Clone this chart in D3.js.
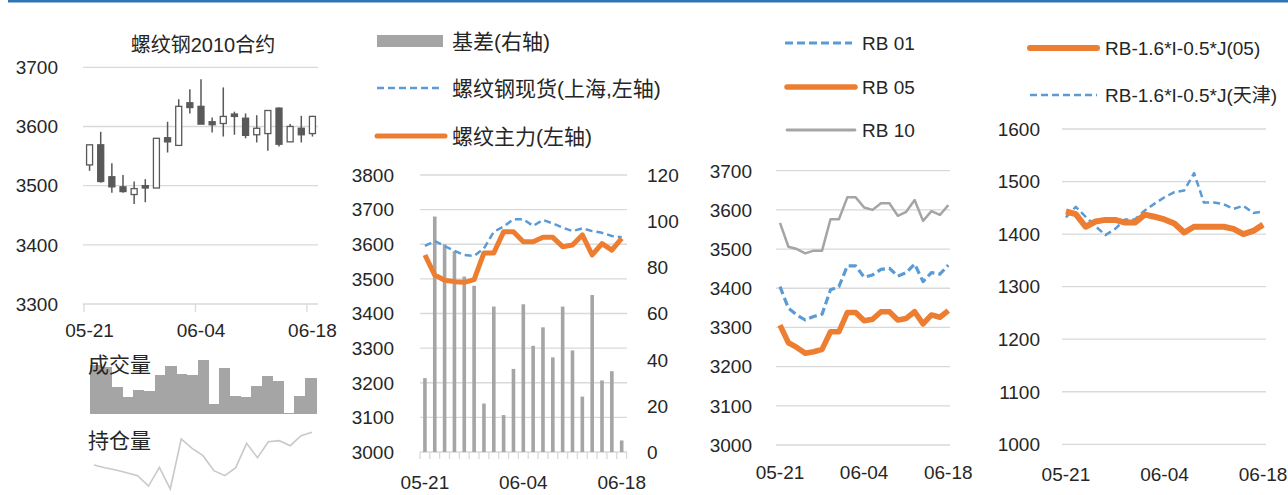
<!DOCTYPE html>
<html lang="zh">
<head>
<meta charset="utf-8">
<script src="https://d3js.org/d3.v7.min.js"></script>
<style>
  body { margin: 0; background: #ffffff; }
  svg { display: block; }
  text { font-family: "Liberation Sans", "Noto Sans CJK SC", sans-serif; fill: #262626; }
</style>
</head>
<body>
<script>
// trading days
var dates = ["05-21","05-22","05-25","05-26","05-27","05-28","05-29","06-01","06-02","06-03",
             "06-04","06-05","06-08","06-09","06-10","06-11","06-12","06-15","06-16","06-17","06-18"];
var dateTicks = ["05-21", "06-04", "06-18"];

// rb2010 candles
var kOpen  = [3535,3569,3515,3498,3485,3500,3496,3581,3568,3640,3634,3608,3605,3621,3614,3586,3588,3631,3574,3597,3588];
var kHigh  = [3569,3591,3538,3518,3507,3511,3580,3608,3646,3663,3680,3615,3666,3625,3622,3619,3627,3632,3604,3618,3618];
var kLow   = [3525,3505,3488,3488,3469,3472,3496,3556,3568,3622,3604,3590,3583,3586,3580,3573,3559,3566,3574,3573,3583];
var kClose = [3569,3507,3498,3490,3495,3496,3580,3574,3634,3632,3604,3603,3617,3617,3585,3597,3627,3570,3600,3586,3617];
var volume = [148,140,80,50,73,68,116,143,120,116,163,30,138,55,50,85,115,98,2,55,108];
var openInterest = [80,72,65,57,48,17,73,8,158,130,108,63,48,72,145,102,150,153,138,168,178];
var ticksK = [3300, 3400, 3500, 3600, 3700];

// basis panel
var basis = [32,102,90,87,76,72,21,63,16,36,64,46,54,41,63,44,24,68,31,35,5];
var spotSH = [3595,3609,3595,3581,3569,3566,3588,3636,3651,3672,3672,3653,3670,3660,3648,3638,3646,3638,3633,3624,3620];
var mainRB = [3569,3511,3496,3492,3490,3498,3575,3575,3636,3636,3607,3607,3620,3620,3593,3598,3627,3569,3602,3583,3617];
var ticksPrice2 = [3000,3100,3200,3300,3400,3500,3600,3700,3800];
var ticksBasis = [0,20,40,60,80,100,120];

// contracts panel
var rb01 = [3404,3349,3332,3319,3328,3334,3396,3404,3457,3457,3428,3434,3448,3451,3431,3440,3462,3417,3440,3436,3459];
var rb05 = [3306,3261,3249,3234,3238,3244,3289,3289,3338,3338,3317,3321,3340,3340,3319,3323,3340,3309,3332,3326,3343];
var rb10 = [3567,3506,3500,3489,3496,3496,3576,3576,3632,3632,3606,3600,3617,3617,3585,3595,3625,3572,3597,3587,3612];
var ticksPrice3 = [3000,3100,3200,3300,3400,3500,3600,3700];

// margin panel
var margin05 = [1443,1438,1414,1424,1427,1427,1422,1422,1437,1433,1428,1420,1403,1414,1414,1414,1414,1410,1400,1406,1418];
var marginTJ = [1432,1452,1433,1415,1398,1410,1428,1428,1445,1458,1470,1480,1483,1516,1460,1460,1457,1448,1454,1440,1443];
var ticksMargin = [1000,1100,1200,1300,1400,1500,1600];

var orange = "#ed7d31", blue = "#5b9bd5", gray = "#a5a5a5", dark = "#595959", grid = "#d9d9d9";

var svg = d3.select("body").append("svg")
    .attr("width", 1288)
    .attr("height", 495);

svg.append("rect")
    .attr("x", 8).attr("y", 0)
    .attr("width", 1280).attr("height", 2.5)
    .attr("fill", "#2e75b6");

function gridLines(g, y, ticks, x0, x1) {
    g.selectAll(null)
        .data(ticks)
        .enter().append("line")
        .attr("x1", x0).attr("x2", x1)
        .attr("y1", function(d) { return y(d); })
        .attr("y2", function(d) { return y(d); })
        .attr("stroke", grid)
        .attr("stroke-width", 1.3);
}

function yLabels(g, y, ticks, x, anchor) {
    g.selectAll(null)
        .data(ticks)
        .enter().append("text")
        .attr("x", x)
        .attr("y", function(d) { return y(d); })
        .attr("dy", "0.36em")
        .attr("text-anchor", anchor)
        .style("font-size", "19px")
        .text(function(d) { return d; });
}

function xLabels(g, x, yPos) {
    g.selectAll(null)
        .data(dateTicks)
        .enter().append("text")
        .attr("x", function(d) { return x(d) + x.bandwidth() / 2; })
        .attr("y", yPos)
        .attr("dy", "0.36em")
        .attr("text-anchor", "middle")
        .style("font-size", "19px")
        .text(function(d) { return d; });
}

function seriesLine(g, x, y, values, color, width, dash) {
    var line = d3.line()
        .x(function(d, i) { return x(dates[i]) + x.bandwidth() / 2; })
        .y(function(d) { return y(d); });
    g.append("path")
        .datum(values)
        .attr("d", line)
        .attr("fill", "none")
        .attr("stroke", color)
        .attr("stroke-width", width)
        .attr("stroke-linejoin", "round")
        .attr("stroke-dasharray", dash || null);
}

function legendItem(x, y, type, color, width, dash, label, textX) {
    if (type == "rect") {
        svg.append("rect")
            .attr("x", x[0]).attr("y", y - 6)
            .attr("width", x[1] - x[0]).attr("height", 12)
            .attr("fill", color);
    } else {
        svg.append("line")
            .attr("x1", x[0]).attr("x2", x[1])
            .attr("y1", y).attr("y2", y)
            .attr("stroke", color)
            .attr("stroke-width", width)
            .attr("stroke-linecap", dash ? "butt" : "round")
            .attr("stroke-dasharray", dash || null);
    }
    svg.append("text")
        .attr("x", textX)
        .attr("y", y)
        .attr("dy", "0.36em")
        .style("font-size", /[\u4e00-\u9fff]/.test(label) && label.indexOf("RB") < 0 ? "21px" : "19px")
        .text(label);
}

// ---------- panel 1: candlestick ----------
var k = svg.append("g");
var xK = d3.scaleBand().domain(dates).range([84, 318]);
var yK = d3.scaleLinear().domain([3300, 3700]).range([304, 67.3]);

k.append("text")
    .attr("x", 203).attr("y", 45).attr("dy", "0.36em")
    .attr("text-anchor", "middle")
    .style("font-size", "20px")
    .text("螺纹钢2010合约");

gridLines(k, yK, ticksK.slice(1), 83, 318);
k.append("line")
    .attr("x1", 83).attr("x2", 318)
    .attr("y1", yK(3300)).attr("y2", yK(3300))
    .attr("stroke", grid).attr("stroke-width", 1.3);
k.selectAll(null)
    .data(dateTicks)
    .enter().append("line")
    .attr("x1", function(d) { return xK(d); })
    .attr("x2", function(d) { return xK(d); })
    .attr("y1", yK(3300)).attr("y2", yK(3300) + 8)
    .attr("stroke", grid).attr("stroke-width", 1.3);
yLabels(k, yK, ticksK, 58, "end");
xLabels(k, xK, 330);

var candle = k.selectAll(".candle")
    .data(dates)
    .enter().append("g")
    .attr("class", "candle");
candle.append("line")
    .attr("x1", function(d) { return xK(d) + xK.bandwidth() / 2; })
    .attr("x2", function(d) { return xK(d) + xK.bandwidth() / 2; })
    .attr("y1", function(d, i) { return yK(kHigh[i]); })
    .attr("y2", function(d, i) { return yK(kLow[i]); })
    .attr("stroke", dark)
    .attr("stroke-width", 1.5);
candle.append("rect")
    .attr("x", function(d) { return xK(d) + xK.bandwidth() / 2 - 3; })
    .attr("width", 6)
    .attr("y", function(d, i) { return yK(Math.max(kOpen[i], kClose[i])); })
    .attr("height", function(d, i) { return Math.max(1.5, Math.abs(yK(kOpen[i]) - yK(kClose[i]))); })
    .attr("fill", function(d, i) { return kClose[i] >= kOpen[i] ? "#ffffff" : dark; })
    .attr("stroke", dark)
    .attr("stroke-width", 1.3);

// volume and open interest
var xV = d3.scaleBand().domain(dates).range([90, 316]);
var yV = d3.scaleLinear().domain([0, 165]).range([414, 359]);
k.selectAll(".vol")
    .data(volume)
    .enter().append("rect")
    .attr("class", "vol")
    .attr("x", function(d, i) { return xV(dates[i]); })
    .attr("width", xV.bandwidth() + 0.5)
    .attr("y", function(d) { return yV(d); })
    .attr("height", function(d) { return 414 - yV(d); })
    .attr("fill", gray)
    .attr("shape-rendering", "crispEdges");
k.append("text")
    .attr("x", 88).attr("y", 364).attr("dy", "0.36em")
    .style("font-size", "21px")
    .text("成交量");

var xO = d3.scalePoint().domain(dates).range([94, 312]);
var yO = d3.scaleLinear().domain([0, 200]).range([491.7, 425]);
k.append("path")
    .datum(openInterest)
    .attr("d", d3.line()
        .x(function(d, i) { return xO(dates[i]); })
        .y(function(d) { return yO(d); }))
    .attr("fill", "none")
    .attr("stroke", "#c9c9c9")
    .attr("stroke-width", 1.6);
k.append("text")
    .attr("x", 88).attr("y", 440).attr("dy", "0.36em")
    .style("font-size", "21px")
    .text("持仓量");

// ---------- panel 2: basis ----------
var b = svg.append("g");
var x2 = d3.scaleBand().domain(dates).range([420, 626.6]);
var y2 = d3.scaleLinear().domain([3000, 3800]).range([452, 175]);
var y2r = d3.scaleLinear().domain([0, 120]).range([452, 175]);

gridLines(b, y2, ticksPrice2, 420, 627);
b.selectAll(null)
    .data(d3.range(dates.length + 1))
    .enter().append("line")
    .attr("x1", function(i) { return 420 + i * x2.step(); })
    .attr("x2", function(i) { return 420 + i * x2.step(); })
    .attr("y1", 452).attr("y2", 459)
    .attr("stroke", grid).attr("stroke-width", 1.3);
yLabels(b, y2, ticksPrice2, 394, "end");
yLabels(b, y2r, ticksBasis, 647, "start");
xLabels(b, x2, 482);

b.selectAll(".bar")
    .data(basis)
    .enter().append("rect")
    .attr("class", "bar")
    .attr("x", function(d, i) { return x2(dates[i]) + x2.bandwidth() / 2 - 1.8; })
    .attr("width", 3.6)
    .attr("y", function(d) { return y2r(d); })
    .attr("height", function(d) { return 452 - y2r(d); })
    .attr("fill", gray);
seriesLine(b, x2, y2, spotSH, blue, 2.5, "7,4");
seriesLine(b, x2, y2, mainRB, orange, 5);

legendItem([377, 443], 41, "rect", gray, 0, null, "基差(右轴)", 452);
legendItem([377, 440], 88, "line", blue, 2.5, "7,4", "螺纹钢现货(上海,左轴)", 452);
legendItem([377, 445], 136, "line", orange, 5, null, "螺纹主力(左轴)", 452);

// ---------- panel 3: contracts ----------
var c = svg.append("g");
var x3 = d3.scaleBand().domain(dates).range([775.8, 952.5]);
var y3 = d3.scaleLinear().domain([3000, 3700]).range([445, 170.7]);

gridLines(c, y3, ticksPrice3, 776, 950);
yLabels(c, y3, ticksPrice3, 752, "end");
xLabels(c, x3, 472);
seriesLine(c, x3, y3, rb10, gray, 2.5);
seriesLine(c, x3, y3, rb01, blue, 3.2, "8,4");
seriesLine(c, x3, y3, rb05, orange, 5.5);

legendItem([785, 852], 43, "line", blue, 3, "8,4", "RB 01", 862);
legendItem([787, 855], 87, "line", orange, 5.5, null, "RB 05", 862);
legendItem([787, 855], 130, "line", gray, 2.8, null, "RB 10", 862);

// ---------- panel 4: steel margin ----------
var m = svg.append("g");
var x4 = d3.scaleBand().domain(dates).range([1061, 1268]);
var y4 = d3.scaleLinear().domain([1000, 1600]).range([444.3, 129]);

gridLines(m, y4, ticksMargin, 1062, 1266);
yLabels(m, y4, ticksMargin, 1040, "end");
xLabels(m, x4, 474);
seriesLine(m, x4, y4, marginTJ, blue, 2.5, "7,4");
seriesLine(m, x4, y4, margin05, orange, 6);

legendItem([1030, 1097], 48, "line", orange, 6, null, "RB-1.6*I-0.5*J(05)", 1105);
legendItem([1030, 1097], 95, "line", blue, 2.5, "7,4", "RB-1.6*I-0.5*J(天津)", 1105);
</script>
</body>
</html>
